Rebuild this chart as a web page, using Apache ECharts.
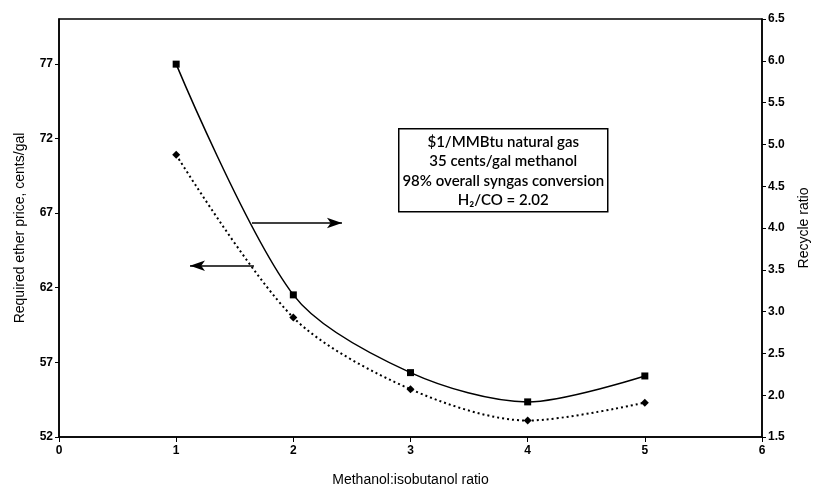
<!DOCTYPE html>
<html>
<head>
<meta charset="utf-8">
<script src="https://cdn.jsdelivr.net/npm/echarts@6/dist/echarts.min.js"></script>
<style>html,body{margin:0;padding:0;background:#fff}#c{width:820px;height:492px}</style>
</head>
<body>
<div id="c"></div>
<script>
const ratios = [1, 2, 3, 4, 5];
const etherPrice = [70.9, 60.0, 55.2, 53.1, 54.3];
const recycleRatio = [5.96, 3.20, 2.27, 1.92, 2.23];
const noteLines = ['$1/MMBtu natural gas', '35 cents/gal methanol', '98% overall syngas conversion', 'H\u2082/CO = 2.02'];

const chart = echarts.init(document.getElementById('c'));
const axisFont = { color: '#000', fontFamily: 'Liberation Sans', fontWeight: 'bold', fontSize: 12 };
const nameFont = { color: '#000', fontFamily: 'Liberation Sans', fontSize: 14 };
chart.setOption({
  animation: false,
  grid: { left: 59, right: 58, top: 19, bottom: 55, outerBoundsMode: 'none', containLabel: false, show: true, borderColor: '#000', borderWidth: 1.5, backgroundColor: '#fff' },
  xAxis: {
    type: 'value', min: 0, max: 6, interval: 1,
    name: 'Methanol:isobutanol ratio', nameLocation: 'middle', nameGap: 36, nameTextStyle: nameFont,
    axisLine: { lineStyle: { color: '#000', width: 1.5 } },
    axisTick: { show: true, length: 5, lineStyle: { color: '#000' } },
    axisLabel: Object.assign({ margin: 8 }, axisFont),
    splitLine: { show: false }
  },
  yAxis: [{
    type: 'value', min: 52, max: 80, interval: 5,
    name: 'Required ether price, cents/gal', nameLocation: 'middle', nameGap: 32, nameTextStyle: nameFont,
    axisLine: { show: true, lineStyle: { color: '#000', width: 1.5 } },
    axisTick: { show: true, length: 4, lineStyle: { color: '#000' } },
    axisLabel: Object.assign({ margin: 6, showMaxLabel: false, formatter: v => (v === 80 ? '' : v) }, axisFont),
    splitLine: { show: false }
  }, {
    type: 'value', min: 1.5, max: 6.5, interval: 0.5, position: 'right',
    name: 'Recycle ratio', nameLocation: 'middle', nameGap: 35, nameRotate: 90, nameTextStyle: nameFont,
    axisLine: { show: true, lineStyle: { color: '#000', width: 1.5 } },
    axisTick: { show: true, length: 4, lineStyle: { color: '#000' } },
    axisLabel: Object.assign({ margin: 6, formatter: v => v.toFixed(1) }, axisFont),
    splitLine: { show: false }
  }],
  series: [{
    type: 'line', yAxisIndex: 1, smooth: 0.3,
    data: ratios.map((x, i) => [x, recycleRatio[i]]),
    symbol: 'rect', symbolSize: 7,
    itemStyle: { color: '#000' },
    lineStyle: { color: '#000', width: 1.5 },
    markLine: {
      silent: true, symbol: ['none', 'arrow'], symbolSize: [8, 15],
      label: { show: false },
      lineStyle: { color: '#000', width: 1.5, type: 'solid' },
      data: [[{ coord: [1.647, 4.06] }, { coord: [2.415, 4.06] }]]
    }
  }, {
    type: 'line', yAxisIndex: 0, smooth: 0.3,
    data: ratios.map((x, i) => [x, etherPrice[i]]),
    symbol: 'diamond', symbolSize: 8,
    itemStyle: { color: '#000' },
    lineStyle: { color: '#000', width: 2, type: [2, 3] },
    markLine: {
      silent: true, symbol: ['none', 'arrow'], symbolSize: [8, 15],
      label: { show: false },
      lineStyle: { color: '#000', width: 1.5, type: 'solid' },
      data: [[{ coord: [1.664, 63.47] }, { coord: [1.118, 63.47] }]]
    }
  }],
  graphic: [{
    type: 'group', left: 398, top: 128,
    children: [{
      type: 'rect', shape: { x: 0, y: 0, width: 209, height: 83 },
      style: { fill: '#fff', stroke: '#000', lineWidth: 1.5 }
    }].concat(noteLines.map((t, i) => ({
      type: 'text', x: 104.5, y: 13 + i * 19.5,
      style: { text: t, fill: '#000', font: '600 15px Lato', textAlign: 'center', textVerticalAlign: 'middle' }
    })))
  }]
});
</script>
</body>
</html>
